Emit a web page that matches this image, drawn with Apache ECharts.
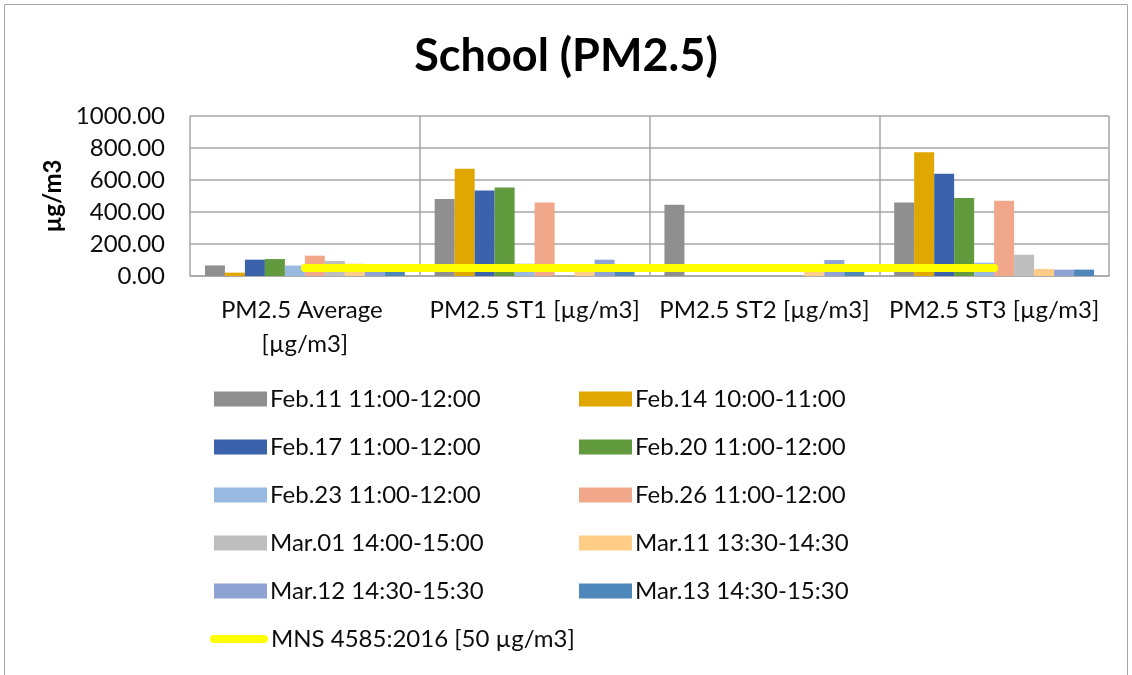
<!DOCTYPE html>
<html>
<head>
<meta charset="utf-8">
<script src="https://cdn.jsdelivr.net/npm/echarts@6/dist/echarts.min.js"></script>
<style>
	html, body { margin: 0; padding: 0; background: #fff; }
	#SchoolChart { width: 1132px; height: 675px; }
</style>
</head>
<body>
<div id="SchoolChart"></div>
<script>
let categories = [
	"PM2.5 Average [µg/m3]",
	"PM2.5 ST1 [µg/m3]",
	"PM2.5 ST2 [µg/m3]",
	"PM2.5 ST3 [µg/m3]",
];
let seriesNames = [
	"Feb.11 11:00-12:00",
	"Feb.14 10:00-11:00",
	"Feb.17 11:00-12:00",
	"Feb.20 11:00-12:00",
	"Feb.23 11:00-12:00",
	"Feb.26 11:00-12:00",
	"Mar.01 14:00-15:00",
	"Mar.11 13:30-14:30",
	"Mar.12 14:30-15:30",
	"Mar.13 14:30-15:30",
];
let feb11 = [66, 482, 445, 459];
let feb14 = [21, 670, 0, 773];
let feb17 = [102, 535, 0, 639];
let feb20 = [106, 553, 0, 487];
let feb23 = [65, 77, 0, 83];
let feb26 = [127, 459, 0, 470];
let mar01 = [94, 0, 0, 133];
let mar11 = [77, 40, 40, 44];
let mar12 = [75, 102, 100, 40];
let mar13 = [45, 40, 40, 40];
let standardName = "MNS 4585:2016 [50 µg/m3]";
let standardValues = [50, 50, 50, 50];
let yTicks = [0, 200, 400, 600, 800, 1000];

let colors = [
	"#8F8F8F",
	"#E0A700",
	"#3B63AB",
	"#629A3E",
	"#98B9E0",
	"#F1A78A",
	"#BEBEBE",
	"#FFCD85",
	"#8EA2D3",
	"#4E87BA",
];

let font = "Lato, 'Noto Sans', sans-serif";
let echarts = window.echarts;
let myChart = echarts.init(document.getElementById("SchoolChart"));

// first label wraps in the original, the others fit on one line
let categoryItems = categories.map((c, i) => {
	return {
		value: c,
		textStyle: { width: i === 0 ? 190 : 228 },
	};
});

let barData = [feb11, feb14, feb17, feb20, feb23, feb26, mar01, mar11, mar12, mar13];
let barSeries = barData.map((d, i) => {
	return {
		name: seriesNames[i],
		type: "bar",
		barGap: 0,
		barCategoryGap: "13%",
		itemStyle: { color: colors[i] },
		data: d,
	};
});

let legendBase = {
	orient: "vertical",
	padding: 0,
	itemWidth: 53,
	itemHeight: 15,
	itemGap: 18,
	icon: "rect",
	textStyle: {
		fontFamily: font,
		fontSize: 24,
		lineHeight: 30,
		color: "#0d0d0d",
		padding: [0, 0, 0, -2],
	},
};

let option = {
	animation: false,
	title: {
		text: "School (PM2.5)",
		left: "center",
		top: 29,
		textStyle: {
			fontFamily: font,
			fontWeight: "bold",
			fontSize: 45,
			color: "#000",
		},
	},
	graphic: [
		{
			type: "rect",
			shape: { x: 4.5, y: 4.5, width: 1123, height: 700 },
			style: { fill: "none", stroke: "#A6A6A6", lineWidth: 1 },
			silent: true,
		},
	],
	grid: {
		left: 190,
		right: 23,
		top: 116,
		bottom: 399,
	},
	legend: [
		Object.assign({}, legendBase, {
			left: 214,
			top: 384,
			data: [seriesNames[0], seriesNames[2], seriesNames[4], seriesNames[6], seriesNames[8]],
		}),
		Object.assign({}, legendBase, {
			left: 579,
			top: 384,
			data: [seriesNames[1], seriesNames[3], seriesNames[5], seriesNames[7], seriesNames[9]],
		}),
		Object.assign({}, legendBase, {
			left: 210,
			top: 624,
			itemWidth: 58,
			itemHeight: 8,
			data: [
				{
					name: standardName,
					icon: "path://M4,0 L54,0 A4,4 0 0 1 54,8 L4,8 A4,4 0 0 1 4,0 Z",
				},
			],
		}),
	],
	xAxis: [
		{
			type: "category",
			data: categoryItems,
			axisTick: { show: false },
			axisLine: { lineStyle: { color: "#A6A6A6", width: 1.5 } },
			splitLine: { show: true, lineStyle: { color: "#A6A6A6", width: 1.5 } },
			axisLabel: {
				interval: 0,
				margin: 17,
				width: 228,
				overflow: "break",
				fontFamily: font,
				fontSize: 24,
				lineHeight: 34,
				color: "#0d0d0d",
			},
		},
	],
	yAxis: [
		{
			type: "value",
			min: yTicks[0],
			max: yTicks[yTicks.length - 1],
			interval: 200,
			name: "µg/m3",
			nameLocation: "middle",
			nameRotate: 90,
			nameGap: 121,
			nameTextStyle: {
				fontFamily: font,
				fontWeight: "bold",
				fontSize: 24,
				color: "#000",
			},
			axisLine: { show: false },
			axisTick: { show: false },
			splitLine: { lineStyle: { color: "#A6A6A6", width: 1.5 } },
			axisLabel: {
				margin: 25,
				fontFamily: font,
				fontSize: 24,
				color: "#0d0d0d",
				formatter: (v) => v.toFixed(2),
			},
		},
	],
	series: barSeries.concat([
		{
			name: standardName,
			type: "line",
			symbol: "none",
			z: 5,
			itemStyle: { color: "#FFFF00" },
			lineStyle: { color: "#FFFF00", width: 8, cap: "round" },
			data: standardValues,
		},
	]),
};

myChart.setOption(option);
</script>
</body>
</html>
